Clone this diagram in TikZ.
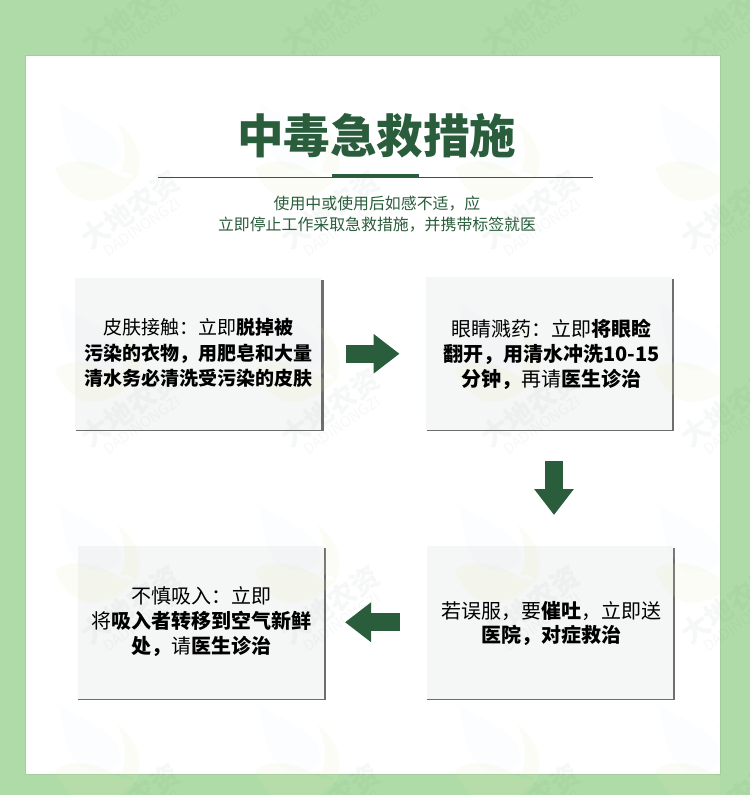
\documentclass[tikz,border=0pt]{standalone}
\usepackage{fontspec}
\setmainfont{Noto Sans CJK SC}
\usetikzlibrary{arrows.meta}
\definecolor{bggreen}{HTML}{AFDBA8}
\definecolor{dgreen}{HTML}{2A5D3C}
\definecolor{boxfill}{HTML}{F5F6F6}
\definecolor{edgegrey}{HTML}{6E6E6E}
\definecolor{panelshadow}{HTML}{A3CD9D}
\definecolor{leafy}{HTML}{E6EFB4}
\definecolor{leafb}{HTML}{D6E9F7}
\tikzset{
  infobox/.style={inner sep=0pt,fill=boxfill,outer sep=0pt},
  infotext/.style={align=center,text=black,font=\fontsize{20}{24.8}\selectfont,inner sep=0pt},
  blockarrow/.style={draw=dgreen,line width=18pt,-{Triangle[length=26pt,width=38pt]}},
  wm/.pic={
    \node[rotate=35,text=dgreen,text opacity=.04,font=\fontsize{28}{28}\selectfont\bfseries,inner sep=0pt] at (0,0) {大地农资};
    \node[rotate=35,text=dgreen,text opacity=.04,font=\fontsize{15}{15}\selectfont,inner sep=0pt] at (12,17) {DADINONGZI};
  },
  leafmark/.pic={
    \fill[leafb,opacity=.09] (0,0) .. controls (25,18) and (58,25) .. (60,50) .. controls (62,62) and (50,68) .. (30,66) .. controls (10,62) and (3,30) .. (0,0) -- cycle;
    \fill[leafy,opacity=.13] (57,20) .. controls (75,32) and (85,55) .. (76,75) .. controls (70,70) and (66,68) .. (60,70) .. controls (68,55) and (66,35) .. (57,20) -- cycle;
    \fill[leafy,opacity=.13] (-5,65) .. controls (15,52) and (40,60) .. (58,72) .. controls (65,76) and (72,76) .. (78,72) .. controls (65,90) and (45,100) .. (25,97) .. controls (10,92) and (0,80) .. (-5,65) -- cycle;
  }
}
\begin{document}
\begin{tikzpicture}[x=1pt,y=-1pt]
\useasboundingbox (0,0) rectangle (750,795);
\fill[bggreen] (0,0) rectangle (750,795);
\draw[panelshadow,line width=2pt] (26,56) rectangle (720,774);
\foreach \x in {130,330,530,730}{
  \pic at (\x,15) {wm};
}
\fill[white] (26,56) rectangle (720,774);
% boxes
\fill[edgegrey] (76,280) rectangle (323.5,431);
\fill[edgegrey] (427,279) rectangle (673.5,431);
\fill[edgegrey] (427,548) rectangle (674.5,700);
\fill[edgegrey] (78,548) rectangle (325.5,700);
\node[infobox,minimum width=246pt,minimum height=151.5pt] (a) at (198,353.75) {};
\node[infobox,minimum width=245.5pt,minimum height=152.5pt] (b) at (548.75,353.25) {};
\node[infobox,minimum width=246.5pt,minimum height=152.5pt] (c) at (549.75,622.25) {};
\node[infobox,minimum width=246.5pt,minimum height=152.5pt] (d) at (200.75,622.25) {};
% faint background marks
\begin{scope}
\clip (26,56) rectangle (720,795);
\foreach \x in {60,260,460,660}{
  \foreach \y in {103,304,505,705}{
    \pic at (\x,\y) {leafmark};
  }
}
\end{scope}
\foreach \x in {130,330,530,730}{
  \foreach \y in {210,408,605,803}{
    \pic at (\x,\y) {wm};
  }
}
% title
\node[text=dgreen,font=\fontsize{46.5}{46.5}\selectfont\bfseries,inner sep=0pt] (title) at (376.5,136) {中毒急救措施};
\coordinate (ruleL) at (158,177);
\coordinate (ruleR) at (593,177);
\coordinate (barL) at (332,175.5);
\coordinate (barR) at (419,175.5);
\draw[dgreen,line width=1pt] (ruleL) -- (ruleR);
\draw[dgreen,line width=3.5pt] (barL) -- (barR);
\node[text=dgreen,align=center,font=\fontsize{15.9}{21}\selectfont,inner sep=0pt] (sub) at (377,214.5)
 {使用中或使用后如感不适，应\\立即停止工作采取急救措施，并携带标签就医};
% box texts
\node[infotext,font=\fontsize{19}{25.6}\selectfont] (ta) at (198,353) {皮肤接触：立即\textbf{脱掉被}\\\textbf{污染的衣物，用肥皂和大量}\\\textbf{清水务必清洗受污染的皮肤}};
\node[infotext] (tb) at (551.5,354.5) {眼睛溅药：立即\textbf{将眼睑}\\\textbf{翻开，用清水冲洗10-15}\\\textbf{分钟，}再请\textbf{医生诊治}};
\node[infotext] (tc) at (551,623.5) {若误服，要\textbf{催吐}，立即送\\\textbf{医院，对症救治}};
\node[infotext] (td) at (201.5,621.5) {不慎吸入：立即\\将\textbf{吸入者转移到空气新鲜}\\\textbf{处，}请\textbf{医生诊治}};
% arrows
\draw[blockarrow] ([xshift=25pt]a.east) -- ([xshift=-26.5pt]b.west |- a.east);
\draw[blockarrow] ([yshift=-31.5pt,xshift=5.25pt]b.south) -- ([yshift=31pt,xshift=4.25pt]c.north);
\draw[blockarrow] ([xshift=-27pt]c.west) -- ([xshift=21pt]d.east);
\end{tikzpicture}
\end{document}
